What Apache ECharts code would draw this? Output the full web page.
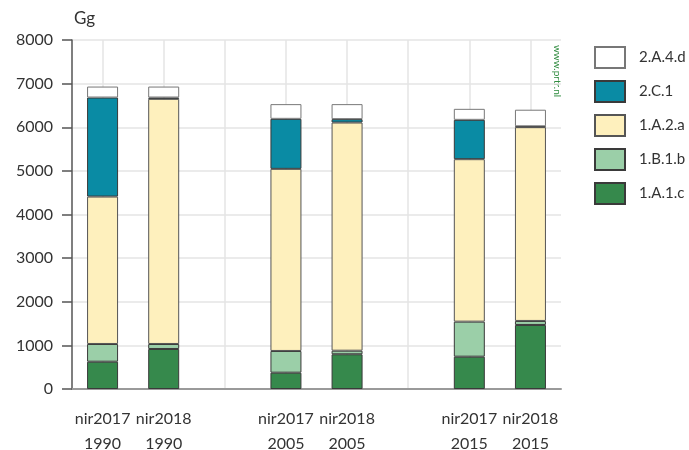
<!DOCTYPE html>
<html>
<head>
<meta charset="utf-8">
<script src="https://cdn.jsdelivr.net/npm/echarts@6/dist/echarts.min.js"></script>
<style>
html, body { margin: 0; padding: 0; background: #fff; }
#main { width: 689px; height: 450px; }
</style>
</head>
<body>
<div id="main"></div>
<script>
// categories, empty slots give the gaps between groups
var categories = ['nir2017\n1990', 'nir2018\n1990', '', 'nir2017\n2005', 'nir2018\n2005', '', 'nir2017\n2015', 'nir2018\n2015'];

// values in Gg
var a1c  = [626, 917, '-', 374, 796, '-', 741, 1468];
var b1b  = [406, 115, '-', 498, 82, '-', 803, 92];
var a2a  = [3379, 5619, '-', 4174, 5230, '-', 3724, 4442];
var c1   = [2270, 30, '-', 1147, 78, '-', 902, 20];
var a4d  = [252, 252, '-', 337, 344, '-', 252, 380];

var yTicks = [0, 1000, 2000, 3000, 4000, 5000, 6000, 7000, 8000];

var font = 'Lato';

function stackBar(name, data, color, border) {
    return {
        name: name,
        type: 'bar',
        stack: 'total',
        barWidth: 31,
        data: data,
        itemStyle: {
            color: color,
            borderColor: border || '#3a3a3a',
            borderWidth: 1
        }
    };
}

var myChart = echarts.init(document.getElementById('main'));

var option = {
    animation: false,
    textStyle: { fontFamily: font },
    grid: {
        left: 72,
        right: 128,
        top: 40,
        bottom: 61,
        containLabel: false,
        outerBoundsMode: 'none'
    },
    legend: {
        orient: 'vertical',
        left: 589,
        top: 41,
        icon: 'rect',
        itemWidth: 30,
        itemHeight: 21,
        itemGap: 11,
        textStyle: { fontFamily: font, fontSize: 15, color: '#333', padding: [0, 0, 0, 9] },
        data: ['2.A.4.d', '2.C.1', '1.A.2.a', '1.B.1.b', '1.A.1.c']
    },
    xAxis: {
        type: 'category',
        data: categories,
        axisLine: { lineStyle: { color: '#9a9a9a', width: 2 } },
        axisTick: { show: false },
        axisLabel: {
            interval: 0,
            fontFamily: font,
            fontSize: 16,
            color: '#333',
            lineHeight: 25,
            margin: 17
        },
        splitLine: {
            show: true,
            alignWithLabel: true,
            interval: 0,
            lineStyle: { color: '#e4e4e4', width: 1.5 }
        }
    },
    yAxis: {
        type: 'value',
        min: yTicks[0],
        max: yTicks[yTicks.length - 1],
        interval: 1000,
        axisLine: { show: true, lineStyle: { color: '#555', width: 1.5 } },
        axisTick: { show: true, length: 10, lineStyle: { color: '#555', width: 1.5 } },
        axisLabel: {
            fontFamily: font,
            fontSize: 16,
            color: '#333',
            margin: 19,
            formatter: function (v) { return String(v); }
        },
        splitLine: { show: true, lineStyle: { color: '#e4e4e4', width: 1.5 } }
    },
    graphic: [
        {
            type: 'text',
            left: 74,
            top: 10,
            style: { text: 'Gg', fontFamily: font, fontSize: 17, fill: '#333' }
        },
        {
            type: 'text',
            x: 557,
            y: 45,
            rotation: -Math.PI / 2,
            style: {
                text: 'www.prtr.nl',
                fontFamily: font,
                fontSize: 10,
                fill: '#2e8b3e',
                align: 'left',
                verticalAlign: 'middle'
            }
        }
    ],
    series: [
        stackBar('1.A.1.c', a1c, '#36894c'),
        stackBar('1.B.1.b', b1b, '#9bcfa8'),
        stackBar('1.A.2.a', a2a, '#fef0bd', '#555'),
        stackBar('2.C.1', c1, '#0a8ba4'),
        stackBar('2.A.4.d', a4d, '#ffffff', '#777')
    ]
};

myChart.setOption(option);
</script>
</body>
</html>
